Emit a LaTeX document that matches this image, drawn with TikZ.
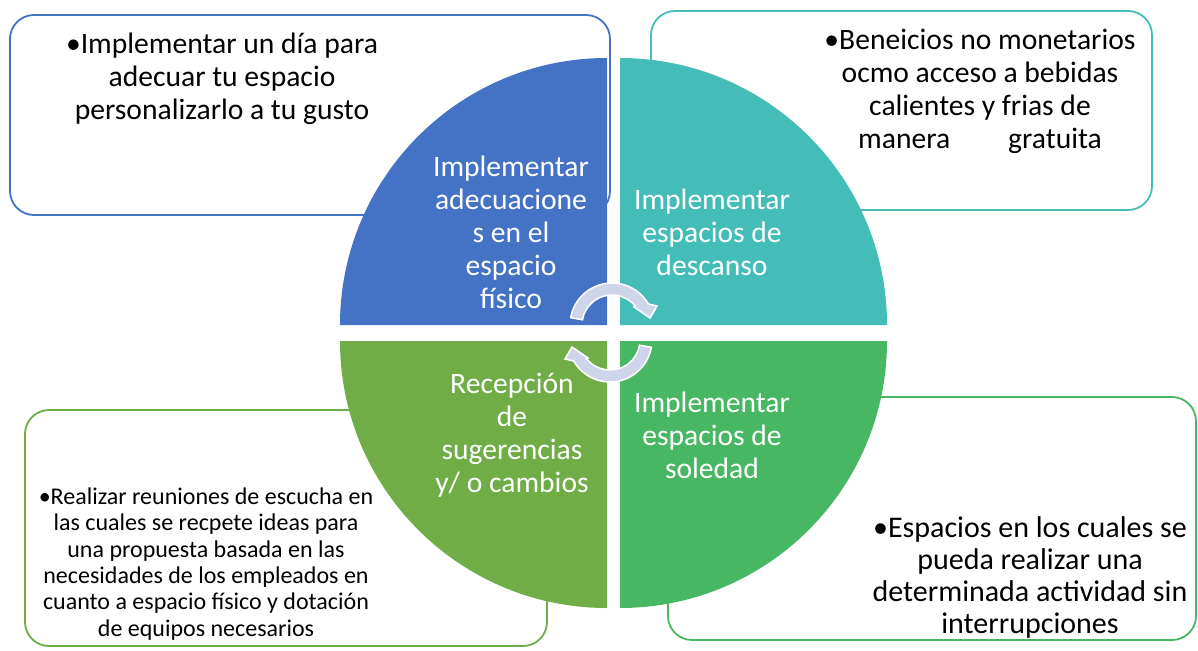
\documentclass[tikz,border=0pt]{standalone}
\usepackage{fontspec}
\setmainfont{Carlito}
\usepackage{xcolor}
\definecolor{physblue}{HTML}{4472C4}
\definecolor{restteal}{HTML}{44BDB8}
\definecolor{ideagreen}{HTML}{70AD47}
\definecolor{quietgreen}{HTML}{48B764}
\definecolor{cyclegray}{HTML}{CED4EA}

\begin{document}
\begin{tikzpicture}[x=1pt, y=-1pt,
    sidebox/.style={line width=1.8pt, rounded corners=24pt},
    quadlabel/.style={text=white, align=center, font=\fontsize{29.6}{33}\selectfont},
    boxlabel/.style={text=black, align=center, font=\fontsize{29.6}{33}\selectfont}]
    \useasboundingbox (0,0) rectangle (1198,650);

    % Text boxes behind the circle
    \draw[sidebox, physblue] (10,15) rectangle (610,215);
    \draw[sidebox, restteal] (651,11) rectangle (1152,210);
    \draw[sidebox, ideagreen] (25,410) rectangle (547,646);
    \draw[sidebox, quietgreen] (668,397) rectangle (1196,640);

    % Four quadrants of the circle
    \fill[physblue] (607,325) -- (340,325) arc[start angle=180, end angle=270, radius=267] -- cycle;
    \fill[restteal] (620,325) -- (620,58) arc[start angle=270, end angle=360, radius=267] -- cycle;
    \fill[ideagreen] (607,341) -- (340,341) arc[start angle=180, end angle=90, radius=267] -- cycle;
    \fill[quietgreen] (620,341) -- (887,341) arc[start angle=0, end angle=90, radius=267] -- cycle;

    % Quadrant labels
    \node[quadlabel] (physical) at (511,232) {Implementar\\adecuacione\\s en el\\espacio\\físico};
    \node[quadlabel] (rest) at (712,232) {Implementar\\espacios de\\descanso};
    \node[quadlabel] (ideas) at (512,435) {Recepción\\de\\sugerencias\\y/ o cambios};
    \node[quadlabel] (quiet) at (712,435) {Implementar\\espacios de\\soledad};

    % Cycle arrows in the middle
    \begin{scope}[shift={(612,325)}]
        \filldraw[fill=cyclegray, draw=white, line width=1.5pt] (190:42) arc[start angle=190, end angle=330, radius=42]
            -- (45,-19) -- (38,-7) -- (22,-18) -- (322:30) arc[start angle=322, end angle=190, radius=30] -- cycle;
    \end{scope}
    \begin{scope}[shift={(610,340)}, rotate=180]
        \filldraw[fill=cyclegray, draw=white, line width=1.5pt] (190:42) arc[start angle=190, end angle=330, radius=42]
            -- (45,-19) -- (38,-7) -- (22,-18) -- (322:30) arc[start angle=322, end angle=190, radius=30] -- cycle;
    \end{scope}

    % Box texts
    \node[boxlabel] (daytext) at (222,79) {•Implementar un día para\\adecuar tu espacio\\personalizarlo a tu gusto};
    \node[boxlabel] (perktext) at (980,91) {•Beneicios no monetarios\\ocmo acceso a bebidas\\calientes y frias de\\manera\hspace{58pt}gratuita};
    \node[boxlabel, font=\fontsize{24}{26.3}\selectfont] (meettext) at (206,564) {•Realizar reuniones de escucha en\\las cuales se recpete ideas para\\una propuesta basada en las\\necesidades de los empleados en\\cuanto a espacio físico y dotación\\de equipos necesarios};
    \node[boxlabel, font=\fontsize{30}{32}\selectfont] (quiettext) at (1030,577) {•Espacios en los cuales se\\pueda realizar una\\determinada actividad sin\\interrupciones};
\end{tikzpicture}
\end{document}
